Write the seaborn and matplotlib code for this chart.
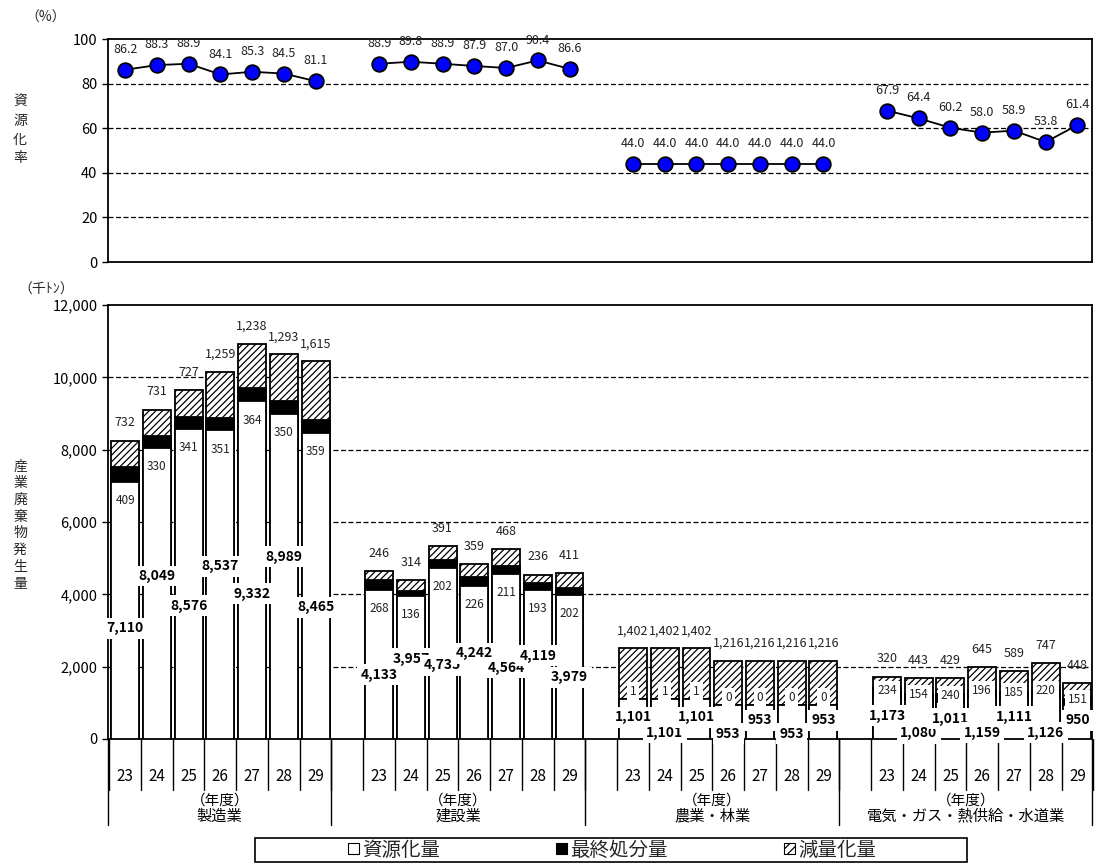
import matplotlib
matplotlib.use("Agg")
import matplotlib.pyplot as plt
import matplotlib.transforms as mtransforms
from matplotlib.patches import Patch, Rectangle
from matplotlib.ticker import FuncFormatter, MultipleLocator
import numpy as np
import pandas as pd
import seaborn as sns

# ---- data -------------------------------------------------------------
industries = ["製造業", "建設業", "農業・林業", "電気・ガス・熱供給・水道業"]
years = ["23", "24", "25", "26", "27", "28", "29"]

# 資源化率 (%)
recycle_rate = [
    [86.2, 88.3, 88.9, 84.1, 85.3, 84.5, 81.1],
    [88.9, 89.8, 88.9, 87.9, 87.0, 90.4, 86.6],
    [44.0, 44.0, 44.0, 44.0, 44.0, 44.0, 44.0],
    [67.9, 64.4, 60.2, 58.0, 58.9, 53.8, 61.4],
]
# 資源化量 (千トン)
recycled = [
    [7110, 8049, 8576, 8537, 9332, 8989, 8465],
    [4133, 3957, 4735, 4242, 4564, 4119, 3979],
    [1101, 1101, 1101, 953, 953, 953, 953],
    [1173, 1080, 1011, 1159, 1111, 1126, 950],
]
# 最終処分量 (千トン)
landfill = [
    [409, 330, 341, 351, 364, 350, 359],
    [268, 136, 202, 226, 211, 193, 202],
    [1, 1, 1, 0, 0, 0, 0],
    [234, 154, 240, 196, 185, 220, 151],
]
# 減量化量 (千トン)
reduced = [
    [732, 731, 727, 1259, 1238, 1293, 1615],
    [246, 314, 391, 359, 468, 236, 411],
    [1402, 1402, 1402, 1216, 1216, 1216, 1216],
    [320, 443, 429, 645, 589, 747, 448],
]

# ---- long-form table ----------------------------------------------------
SLOTS_PER_GROUP = 8
rows = []
for g, name in enumerate(industries):
    for j, yr in enumerate(years):
        rows.append({
            "group": g, "idx": j, "pos": g * SLOTS_PER_GROUP + j, "year": yr,
            "rate": recycle_rate[g][j], "res": recycled[g][j],
            "fin": landfill[g][j], "red": reduced[g][j],
        })
df = pd.DataFrame(rows)
df["mid"] = df["res"] + df["fin"]
df["top"] = df["mid"] + df["red"]

# ---- style --------------------------------------------------------------
sns.set_theme(style="white")
plt.rcParams["font.family"] = ["Noto Sans CJK JP", "DejaVu Sans"]
plt.rcParams["hatch.linewidth"] = 0.9
plt.rcParams["hatch.color"] = "black"

W, H = 1108, 866
fig = plt.figure(figsize=(W / 100, H / 100), dpi=100)
fig.patch.set_facecolor("white")

L, R = 108, 1092
ax1 = fig.add_axes([L / W, 1 - 262 / H, (R - L) / W, 223 / H])
ax2 = fig.add_axes([L / W, 1 - 739 / H, (R - L) / W, 434 / H])
XLIM = (-0.54, 30.46)

for ax in (ax1, ax2):
    ax.set_facecolor("white")
    for s in ax.spines.values():
        s.set_visible(True)
        s.set_color("black")
        s.set_linewidth(1.3)
    ax.set_xlim(*XLIM)

# ---- top panel: 資源化率 ----------------------------------------------------
for g in range(len(industries)):
    sub = df[df["group"] == g]
    sns.lineplot(data=sub, x="pos", y="rate", ax=ax1, color="black",
                 linewidth=1.3, marker="o", markersize=10.5,
                 markerfacecolor="#0000FF", markeredgecolor="black",
                 markeredgewidth=1.3, errorbar=None, zorder=3)
    for _, r in sub.iterrows():
        ax1.annotate(f"{r['rate']:.1f}", (r["pos"], r["rate"]),
                     xytext=(0, 10), textcoords="offset points",
                     ha="center", va="bottom", fontsize=9, color="#222222")

ax1.set_xlim(*XLIM)
ax1.set_ylim(0, 100)
ax1.yaxis.set_major_locator(MultipleLocator(20))
ax1.set_xticks([])
ax1.set_xlabel("")
ax1.set_ylabel("")
ax1.tick_params(axis="y", labelsize=10.5, length=4, width=1, direction="out",
                left=True, colors="black")
for v in (20, 40, 60, 80):
    ax1.axhline(v, color="black", linestyle=(0, (4, 2)), linewidth=0.9, zorder=1)

# ---- bottom panel: stacked totals --------------------------------------
bar_kw = dict(x="pos", native_scale=True, orient="x", width=0.88,
              edgecolor="black", linewidth=1.3, errorbar=None,
              saturation=1, ax=ax2, zorder=3)
sns.barplot(data=df, y="top", color="white", hatch="/////", **bar_kw)
sns.barplot(data=df, y="mid", color="black", **bar_kw)
sns.barplot(data=df, y="res", color="white", **bar_kw)

ax2.set_xlim(*XLIM)
ax2.set_ylim(0, 12000)
ax2.yaxis.set_major_locator(MultipleLocator(2000))
ax2.yaxis.set_major_formatter(FuncFormatter(lambda v, _: f"{v:,.0f}"))
ax2.set_xlabel("")
ax2.set_ylabel("")
ax2.tick_params(axis="y", labelsize=10.5, length=4, width=1, direction="out",
                left=True, colors="black")
for v in range(2000, 12000, 2000):
    ax2.axhline(v, color="black", linestyle=(0, (4, 2)), linewidth=0.9, zorder=1)

# value labels
white_box = dict(boxstyle="square,pad=0.25", facecolor="white", edgecolor="none")
for _, r in df.iterrows():
    x = r["pos"]
    # 減量化量 above the stack
    ax2.annotate(f"{r['red']:,}", (x, r["top"]), xytext=(0, 8),
                 textcoords="offset points", ha="center", va="bottom",
                 fontsize=9, color="#222222", zorder=6)
    small = r["res"] < 2000
    # 最終処分量
    if small:
        y_fin = r["res"] + r["fin"] / 2 + 0.15 * r["red"]
    else:
        y_fin = r["res"] - 520
    ax2.text(x, y_fin, f"{r['fin']:,}", ha="center", va="center",
             fontsize=8.5, color="#222222", bbox=white_box, zorder=6)
    # 資源化量 (staggered to keep neighbours apart)
    if small:
        frac = 0.55 if r["idx"] % 2 == 0 else 0.15
    else:
        frac = 0.43 if r["idx"] % 2 == 0 else 0.56
    ax2.text(x, r["res"] * frac, f"{r['res']:,}", ha="center", va="center",
             fontsize=10, fontweight="bold", color="black",
             bbox=white_box, zorder=7)

# ---- category axis below the bars --------------------------------------
ax2.set_xticks(df["pos"].tolist())
ax2.set_xticklabels(df["year"].tolist())
ax2.tick_params(axis="x", length=0, pad=21, labelsize=11, colors="black",
                bottom=False)
trans = mtransforms.blended_transform_factory(ax2.transData, ax2.transAxes)
SHORT, LONG = -0.118, -0.198
for g in range(len(industries)):
    first = g * SLOTS_PER_GROUP
    edges = [first - 0.5] + [first + j + 0.5 for j in range(len(years))]
    for e in edges:
        ax2.plot([e, e], [0, SHORT], transform=trans, color="black",
                 linewidth=1.0, clip_on=False)
dividers = [XLIM[0]] + [g * SLOTS_PER_GROUP - 1.5 for g in range(1, 4)] + [XLIM[1]]
for d in dividers:
    ax2.plot([d, d], [0, LONG], transform=trans, color="black",
             linewidth=1.0, clip_on=False)
for g, name in enumerate(industries):
    cx = (dividers[g] + dividers[g + 1]) / 2
    ax2.text(cx, -0.141, "（年度）", transform=trans, ha="center", va="center",
             fontsize=10.5, color="black")
    ax2.text(cx, -0.178, name, transform=trans, ha="center", va="center",
             fontsize=11, color="black")

# ---- axis titles --------------------------------------------------------
fig.text(46 / W, 1 - 18 / H, "（%）", ha="center", va="center", fontsize=10)
fig.text(20 / W, 1 - 130 / H, "資\n源\n化\n率", ha="center", va="center",
         fontsize=10, linespacing=1.45)
fig.text(46 / W, 1 - 290 / H, "（千ﾄﾝ）", ha="center", va="center", fontsize=10)
fig.text(20 / W, 1 - 525 / H, "産\n業\n廃\n棄\n物\n発\n生\n量", ha="center",
         va="center", fontsize=10, linespacing=1.25)

# ---- legend -------------------------------------------------------------
fig.patches.append(Rectangle((255 / W, 1 - 862 / H), 712 / W, 24 / H,
                             transform=fig.transFigure, facecolor="white",
                             edgecolor="black", linewidth=1.2))
handles = [
    Patch(facecolor="white", edgecolor="black", linewidth=0.8),
    Patch(facecolor="black", edgecolor="black", linewidth=0.8),
    Patch(facecolor="white", edgecolor="black", linewidth=0.8, hatch="////"),
]
fig.legend(handles, ["資源化量", "最終処分量", "減量化量"], loc="center",
           bbox_to_anchor=(612 / W, 1 - 850 / H), ncol=3, frameon=False,
           fontsize=14, handlelength=0.55, handleheight=0.55,
           handletextpad=0.15, columnspacing=6.0, borderpad=0)

fig.savefig("out.png", dpi=100, facecolor="white")
